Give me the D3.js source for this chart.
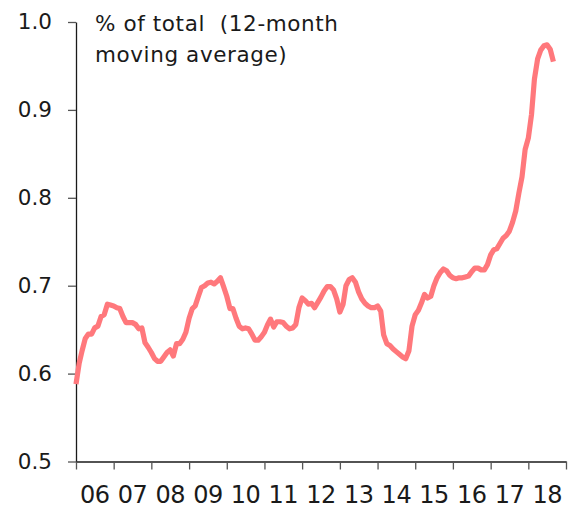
<!DOCTYPE html>
<html>
<head>
<meta charset="utf-8">
<script src="https://cdn.jsdelivr.net/npm/d3@7"></script>
<style>
  html, body { margin: 0; padding: 0; background: #ffffff; }
  svg { display: block; }
  text { font-family: "DejaVu Sans", "Noto Sans", sans-serif; fill: #1a1a1a; }
</style>
</head>
<body>
<div id="chart"></div>
<script>
// ---- data ----
const startMonth = "2006-01";            // first observation (monthly series)
const values = [
  0.588, 0.612, 0.626, 0.640, 0.645, 0.645, 0.652, 0.654, 0.665, 0.667, 0.679, 0.678,
  0.677, 0.675, 0.674, 0.665, 0.658, 0.658, 0.658, 0.656, 0.651, 0.652, 0.635, 0.630,
  0.624, 0.617, 0.614, 0.614, 0.619, 0.624, 0.627, 0.620, 0.634, 0.634, 0.639, 0.647,
  0.663, 0.674, 0.677, 0.688, 0.698, 0.700, 0.703, 0.704, 0.702, 0.705, 0.709, 0.699,
  0.688, 0.674, 0.674, 0.663, 0.654, 0.651, 0.652, 0.651, 0.645, 0.638, 0.638, 0.642,
  0.647, 0.656, 0.662, 0.653, 0.659, 0.659, 0.658, 0.654, 0.651, 0.652, 0.656, 0.675,
  0.686, 0.683, 0.679, 0.680, 0.675, 0.681, 0.687, 0.694, 0.699, 0.699, 0.695, 0.685,
  0.670, 0.679, 0.700, 0.707, 0.709, 0.704, 0.693, 0.685, 0.680, 0.677, 0.675, 0.675,
  0.677, 0.671, 0.644, 0.634, 0.632, 0.628, 0.625, 0.622, 0.619, 0.617, 0.626, 0.654,
  0.667, 0.672, 0.680, 0.690, 0.686, 0.688, 0.700, 0.709, 0.715, 0.719, 0.717, 0.712,
  0.709, 0.708, 0.709, 0.709, 0.710, 0.711, 0.716, 0.720, 0.720, 0.718, 0.718, 0.724,
  0.735, 0.741, 0.742, 0.748, 0.754, 0.757, 0.762, 0.772, 0.785, 0.805, 0.824, 0.855,
  0.868, 0.895, 0.935, 0.958, 0.968, 0.973, 0.974, 0.969, 0.955
];
const yearTicks = [2006, 2007, 2008, 2009, 2010, 2011, 2012, 2013, 2014, 2015, 2016, 2017, 2018, 2019];
const yearLabels = ["06", "07", "08", "09", "10", "11", "12", "13", "14", "15", "16", "17", "18"];
const yTicks = [0.5, 0.6, 0.7, 0.8, 0.9, 1.0];
const titleLines = ["% of total  (12-month", "moving average)"];

// ---- layout ----
const W = 569, H = 508;
const X0 = 76, X1 = 566, Y0 = 461.5, Y1 = 22;

const parse = d3.timeParse("%Y-%m");
const t0 = parse(startMonth);
const series = values.map((v, i) => ({ date: d3.timeMonth.offset(t0, i), value: v }));

const x = d3.scaleTime()
  .domain([new Date(yearTicks[0], 0, 1), new Date(yearTicks[yearTicks.length - 1], 0, 1)])
  .range([X0, X1]);
const y = d3.scaleLinear().domain([0.5, 1.0]).range([Y0, Y1]);

const svg = d3.select("#chart").append("svg")
  .attr("width", W).attr("height", H);

// y axis
const gy = svg.append("g")
  .attr("transform", `translate(${X0},0)`)
  .call(d3.axisLeft(y).tickValues(yTicks).tickFormat(d3.format(".1f"))
    .tickSize(8).tickSizeOuter(0).tickPadding(16));
gy.select(".domain").attr("stroke", "#1a1a1a").attr("stroke-width", 1.3);
gy.selectAll(".tick line").attr("stroke", "#555").attr("stroke-width", 1.3);
gy.selectAll(".tick text")
  .style("font-family", "DejaVu Sans, sans-serif")
  .style("font-size", "21.5px").attr("fill", "#1a1a1a");

// x axis
const gx = svg.append("g")
  .attr("transform", `translate(0,${Y0})`)
  .call(d3.axisBottom(x).tickValues(yearTicks.map(yr => new Date(yr, 0, 1)))
    .tickFormat("").tickSize(8).tickSizeOuter(0));
gx.select(".domain").attr("stroke", "#1a1a1a").attr("stroke-width", 1.3);
gx.selectAll(".tick line").attr("stroke", "#555").attr("stroke-width", 1.3);

svg.append("g").selectAll("text")
  .data(yearLabels)
  .join("text")
  .attr("x", (d, i) => (x(new Date(yearTicks[i], 0, 1)) + x(new Date(yearTicks[i + 1], 0, 1))) / 2)
  .attr("y", 503)
  .attr("text-anchor", "middle")
  .style("font-size", "24px")
  .style("letter-spacing", "-0.5px")
  .text(d => d);

// title
svg.append("g").selectAll("text")
  .data(titleLines)
  .join("text")
  .attr("x", 95)
  .attr("y", (d, i) => 31 + i * 31)
  .style("font-size", "21.5px")
  .style("letter-spacing", "0.6px")
  .attr("xml:space", "preserve")
  .style("white-space", "pre")
  .text(d => d);

// line
const line = d3.line()
  .x(d => x(d.date))
  .y(d => y(d.value));

svg.append("path")
  .datum(series)
  .attr("fill", "none")
  .attr("stroke", "#ff787c")
  .attr("stroke-width", 5.2)
  .attr("stroke-linejoin", "round")
  .attr("stroke-linecap", "butt")
  .attr("d", line);
</script>
</body>
</html>
